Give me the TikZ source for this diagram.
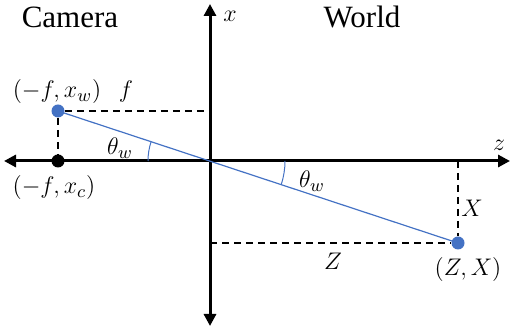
\documentclass[tikz,border=0pt]{standalone}
\usepackage{amsmath}
\usepackage{fontspec}
\setmainfont{Liberation Serif}
\usepackage{tikz}
\usetikzlibrary{arrows.meta}
\definecolor{Ink}{HTML}{000000}
\definecolor{Ray}{HTML}{4472C4}
\tikzset{
  axis/.style={line width=1.5pt,draw=Ink,{Triangle[length=6pt,width=6pt]}-{Triangle[length=6pt,width=6pt]}},
  guide/.style={line width=1pt,draw=Ink,dash pattern=on 3.5pt off 2.5pt},
  ray/.style={line width=0.6pt,draw=Ray},
  dot/.style={circle,inner sep=0pt,minimum size=6.5pt,fill=#1},
  lbl/.style={font=\fontsize{13}{15}\selectfont,text=Ink,inner sep=0pt},
  title/.style={font=\fontsize{15.5}{18}\selectfont,text=Ink,inner sep=0pt}
}

\begin{document}
\begin{tikzpicture}[x=0.5pt,y=-0.5pt]
  \useasboundingbox (0,0) rectangle (514,330);
  % axes
  \coordinate (O) at (210,161);
  \coordinate (L) at (4,161);
  \coordinate (R) at (510,161);
  \coordinate (T) at (210,4);
  \coordinate (B) at (210,326);
  \draw[axis] (L) -- (R);
  \draw[axis] (B) -- (T);
  % points
  \node[dot=Ray] (pw) at (58,111) {};
  \node[dot=Ink] (pc) at (58,161) {};
  \node[dot=Ray] (pZX) at (458,243) {};
  \coordinate (fx) at (210,111);
  \coordinate (zx) at (210,243);
  \coordinate (zz) at (458,161);
  % guides
  \draw[guide] (pw) -- (fx);
  \draw[guide] (pw) -- (pc);
  \draw[guide] (zz) -- (pZX);
  \draw[guide] (zx) -- (pZX);
  % ray
  \draw[ray] (pw.center) -- (pZX.center);
  \draw[ray,line width=0.5pt] ([shift={(161.74:31pt)}]O) arc[start angle=161.74,end angle=180,radius=31pt];
  \draw[ray,line width=0.5pt] ([shift={(0:37.5pt)}]O) arc[start angle=0,end angle=-18.26,radius=37.5pt];
  % labels
  \node[title] (cam) at (70,17) {Camera};
  \node[title] (wld) at (362,17) {World};
  \node[lbl] (xl) at (230,16) {$x$};
  \node[lbl] (zl) at (499,145) {$z$};
  \node[lbl] (fl) at (126,92) {$f$};
  \node[lbl] (pwl) at (57,92) {$(-f,x_w)$};
  \node[lbl] (pcl) at (54,188) {$(-f,x_c)$};
  \node[lbl] (th1) at (120,148) {$\theta_w$};
  \node[lbl] (th2) at (312,181) {$\theta_w$};
  \node[lbl] (Xl) at (472,208) {$X$};
  \node[lbl] (Zl) at (333,261) {$Z$};
  \node[lbl] (ZXl) at (468,270) {$(Z,X)$};
\end{tikzpicture}
\end{document}
